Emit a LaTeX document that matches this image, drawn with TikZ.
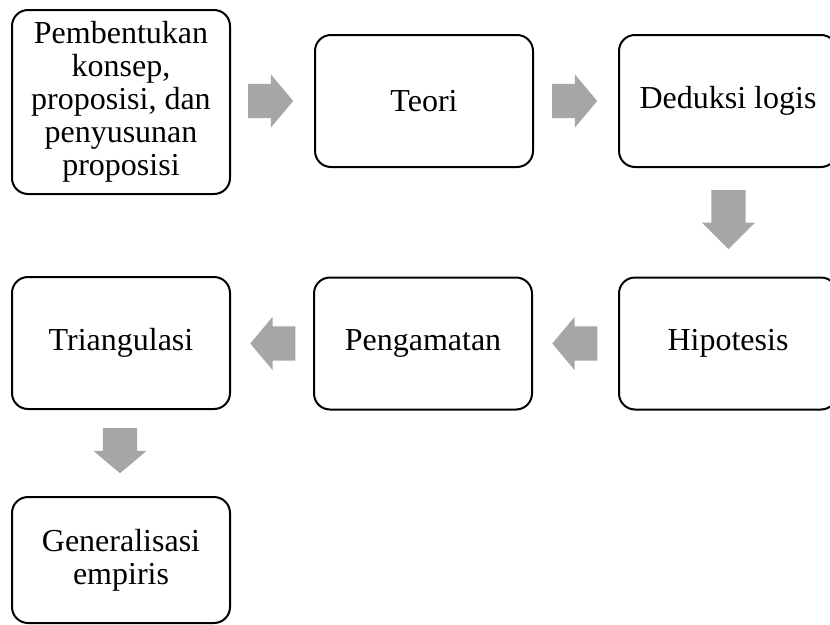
\documentclass[tikz,border=0pt]{standalone}
\usepackage{fontspec}
\setmainfont{Liberation Serif}
\usetikzlibrary{shapes.arrows,calc}
\definecolor{arrowgray}{RGB}{166,166,166}
\begin{document}
\begin{tikzpicture}[x=1pt,y=-1pt,
  box/.style={draw=black, line width=2pt, rounded corners=16pt, minimum width=218pt, minimum height=132pt, inner sep=2pt, align=center, font=\fontsize{32}{33}\selectfont, fill=white},
  blockarrow/.style={single arrow, fill=arrowgray, draw=none, inner xsep=0pt, inner ysep=17pt, minimum width=53pt, single arrow head extend=9.5pt, single arrow tip angle=100, minimum height=45pt}
]
\useasboundingbox (0,0) rectangle (830,624);
\node[box, minimum height=184pt] (b1) at (121,102) {Pembentukan\\konsep,\\proposisi, dan\\penyusunan\\proposisi};
\node[box] (b2) at (424,101) {Teori};
\node[box] (b3) at (728,101) {Deduksi logis};
\node[box] (b4) at (728,343.5) {Hipotesis};
\node[box] (b5) at (423,343.5) {Pengamatan};
\node[box] (b6) at (121,343) {Triangulasi};
\node[box, minimum height=126pt] (b7) at (121,560) {Generalisasi\\empiris};

\node[blockarrow, anchor=tail] (a1) at ($(b1.east)+(17,-1)$) {};
\node[blockarrow, anchor=tail] (a2) at ($(b2.east)+(18,0)$) {};
\node[blockarrow, rotate=-90, minimum height=59pt, single arrow tip angle=90, anchor=tail] (a3) at ($(b3.south)+(0.5,22)$) {};
\node[blockarrow, rotate=180, anchor=tip] (a4) at ($(b5.east)+(19,0)$) {};
\node[blockarrow, rotate=180, anchor=tip] (a5) at ($(b6.east)+(19,0.5)$) {};
\node[blockarrow, rotate=-90, anchor=tail] (a6) at ($(b6.south)+(-1,18)$) {};
\end{tikzpicture}
\end{document}
